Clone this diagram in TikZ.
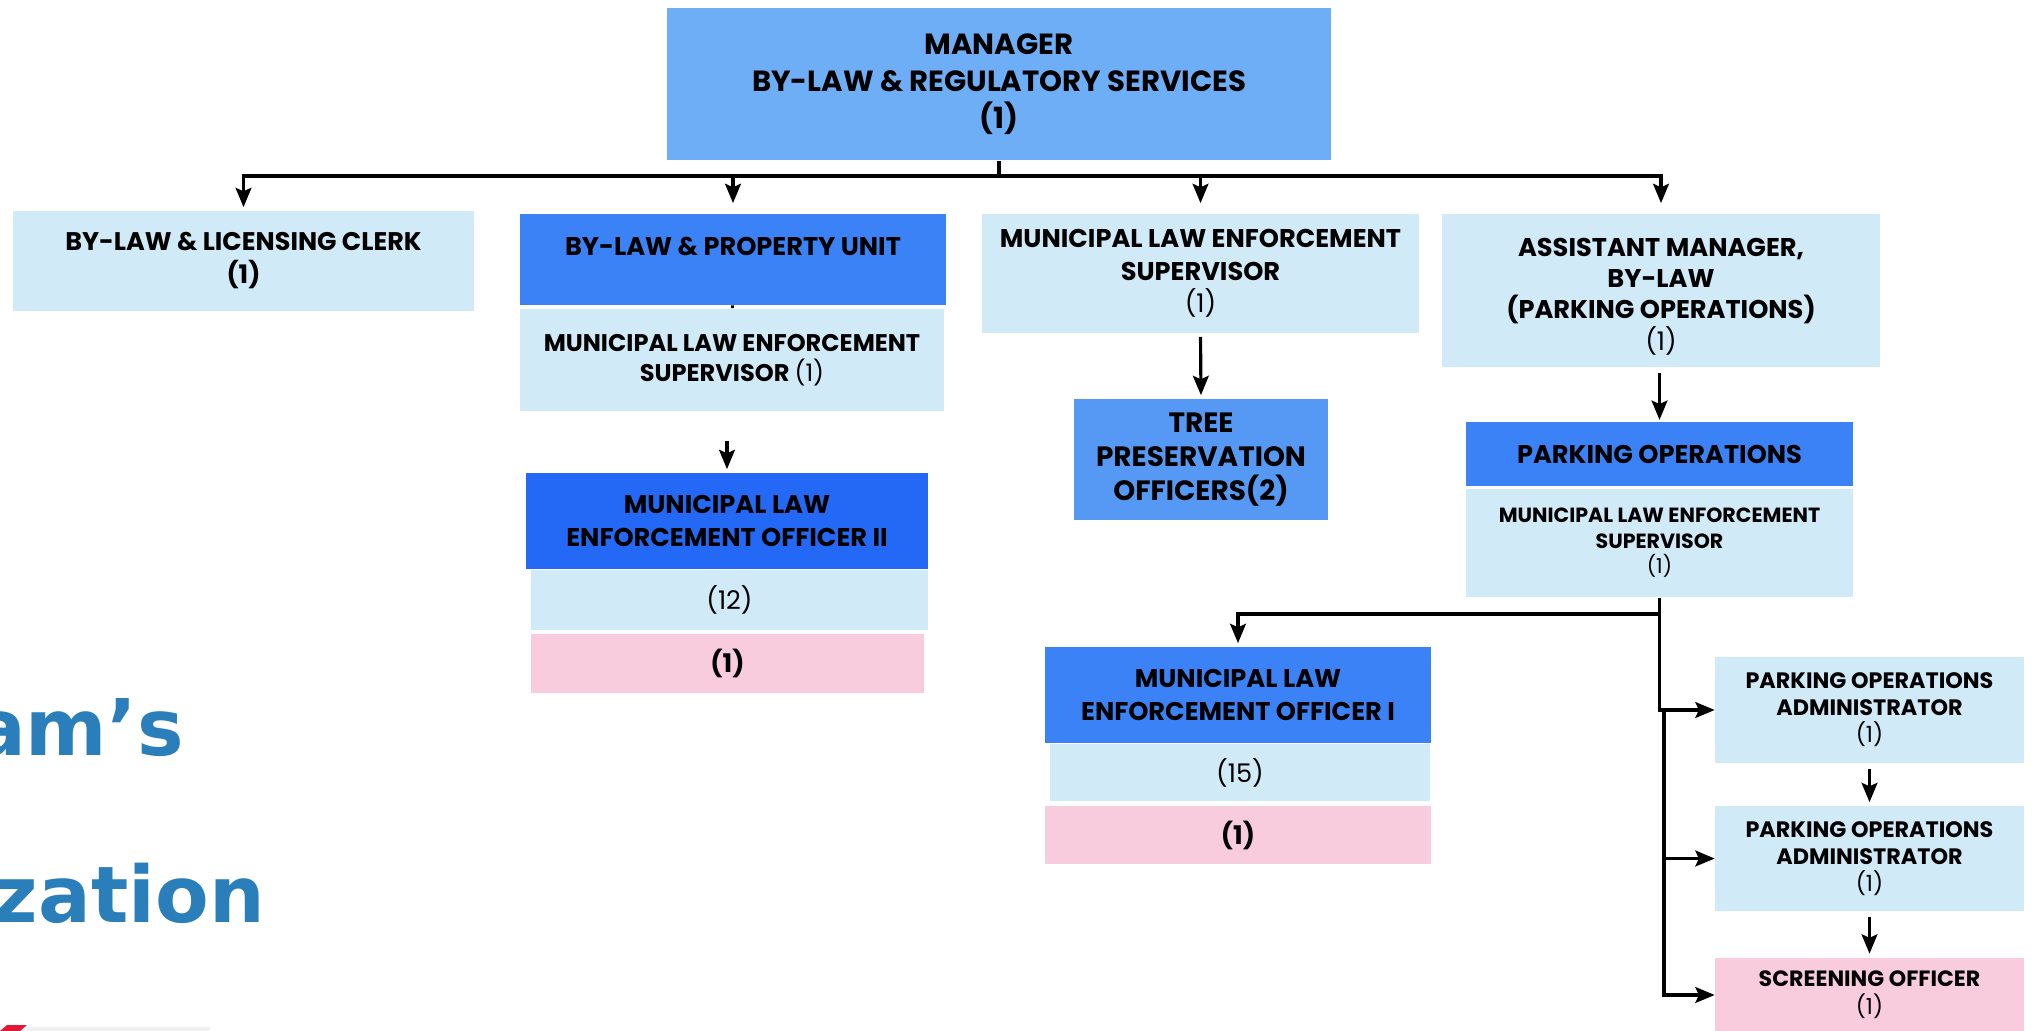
\documentclass[tikz,border=0pt]{standalone}
\usepackage{fontspec}
\setmainfont{Poppins}
\newfontfamily\titlefont{DejaVu Sans}
\usepackage{tikz}
\usetikzlibrary{arrows.meta}

\definecolor{topblue}{HTML}{6EAEF6}
\definecolor{paleblue}{HTML}{D0EAF7}
\definecolor{unitblue}{HTML}{3B82F6}
\definecolor{deepblue}{HTML}{2369F5}
\definecolor{treeblue}{HTML}{5599F5}
\definecolor{pinkbox}{HTML}{F8CCDD}
\definecolor{titleblue}{HTML}{2A7FBA}
\definecolor{logored}{HTML}{E31837}

\tikzset{
  box/.style={inner sep=0pt, align=center, text=black, font=\bfseries\fontsize{14.6}{18.4}\selectfont},
  pale/.style={box, fill=paleblue},
  unitbox/.style={box, fill=unitblue},
  deep/.style={box, fill=deepblue},
  pinkcell/.style={box, fill=pinkbox},
  small/.style={font=\bfseries\fontsize{11.7}{14.5}\selectfont},
  link/.style={line width=1.8pt, -{Stealth[length=11pt,width=9pt,inset=2pt]}},
  bigtext/.style={inner sep=0pt, text=titleblue, font=\titlefont\bfseries\fontsize{44.5}{50}\selectfont},
}

\begin{document}
\begin{tikzpicture}[x=0.02cm,y=-0.02cm]
    \useasboundingbox (0,0) rectangle (2032,1031);
    \node[box, fill=topblue, minimum width=13.28cm, minimum height=3.06cm, font=\bfseries\fontsize{16.6}{21}\selectfont] (manager) at (999,84) {MANAGER\\BY-LAW \& REGULATORY SERVICES\\(1)};
    \node[pale, minimum width=9.22cm, minimum height=2cm, font=\bfseries\fontsize{14.5}{18.8}\selectfont] (clerk) at (243.5,261) {BY-LAW \& LICENSING CLERK\\(1)};
    \node[unitbox, minimum width=8.52cm, minimum height=1.82cm, label={[box,yshift=7.7pt]center:BY-LAW \& PROPERTY UNIT}] (unit) at (733,259.5) {};
    \node[pale, minimum width=8.48cm, minimum height=2.06cm, font=\bfseries\fontsize{13.7}{17}\selectfont] (unitsup) at (732,360) {MUNICIPAL LAW ENFORCEMENT\\SUPERVISOR \textmd{(1)}};
    \node[deep, minimum width=8.04cm, minimum height=1.92cm] (mleotwo) at (727,521) {MUNICIPAL LAW\\ENFORCEMENT OFFICER II};
    \node[pale, minimum width=7.94cm, minimum height=1.2cm] (mleotwocount) at (729.5,600) {\textmd{(12)}};
    \node[pinkcell, minimum width=7.86cm, minimum height=1.18cm] (mleotwopink) at (727.5,663.5) {(1)};
    \node[pale, minimum width=8.74cm, minimum height=2.38cm] (mles) at (1200.5,273.5) {MUNICIPAL LAW ENFORCEMENT\\SUPERVISOR\\\textmd{(1)}};
    \node[box, fill=treeblue, minimum width=5.08cm, minimum height=2.42cm, font=\bfseries\fontsize{15.9}{19.3}\selectfont] (tree) at (1201,459.5) {TREE\\PRESERVATION\\OFFICERS(2)};
    \node[pale, minimum width=8.76cm, minimum height=3.06cm, label={[box,yshift=-3.4pt,font=\bfseries\fontsize{14.6}{17.8}\selectfont]center:ASSISTANT MANAGER,\\BY-LAW\\(PARKING OPERATIONS)\\\textmd{(1)}}] (asst) at (1661,290.5) {};
    \node[unitbox, minimum width=7.74cm, minimum height=1.28cm] (parking) at (1659.5,454) {PARKING OPERATIONS};
    \node[pale, small, minimum width=7.74cm, minimum height=2.18cm] (psup) at (1659.5,543) {MUNICIPAL LAW ENFORCEMENT\\SUPERVISOR\\\textmd{(1)}};
    \node[unitbox, minimum width=7.72cm, minimum height=1.92cm] (mleoone) at (1238,695) {MUNICIPAL LAW\\ENFORCEMENT OFFICER I};
    \node[pale, minimum width=7.6cm, minimum height=1.14cm] (mleoonecount) at (1240,772.5) {\textmd{(15)}};
    \node[pinkcell, minimum width=7.72cm, minimum height=1.16cm] (mleoonepink) at (1238,835) {(1)};
    \node[pale, minimum width=6.18cm, minimum height=2.12cm, font=\bfseries\fontsize{12.7}{15.4}\selectfont] (poaone) at (1869.5,710) {PARKING OPERATIONS\\ADMINISTRATOR\\\textmd{(1)}};
    \node[pale, minimum width=6.18cm, minimum height=2.1cm, font=\bfseries\fontsize{12.7}{15.4}\selectfont] (poatwo) at (1869.5,858.5) {PARKING OPERATIONS\\ADMINISTRATOR\\\textmd{(1)}};
    \node[pinkcell, minimum width=6.18cm, minimum height=1.5cm, font=\bfseries\fontsize{12.6}{16}\selectfont] (screen) at (1869.5,995) {SCREENING OFFICER\\\textmd{(1)}};

    \node[bigtext, anchor=base east] (program) at (184,755) {am’s};
    \node[bigtext, anchor=base east] (organization) at (265,922) {zation};
    \fill[logored] (7,1025) -- (27,1025) -- (20,1031) -- (0,1031) -- cycle;
    \fill[black!6] (27,1027) rectangle (210,1031);

    % reporting lines
    \coordinate (bus) at (999,176);
    \coordinate (dropii) at (727,441);
    \coordinate (split) at (1659.5,614);
    \coordinate (trunk) at (1664,710);
    \draw[line width=1.8pt] (manager.south) -- (bus);
    \draw[link, shorten >=2pt] (bus) -| (clerk.north);
    \draw[link, shorten >=6pt] (bus) -| (unit.north);
    \draw[link, shorten >=6pt] (bus) -| (mles.north);
    \draw[link, shorten >=6pt] (bus) -| (asst.north);
    \draw[line width=1.5pt] (unit) -- (unitsup);
    \draw[link, shorten >=2pt] (dropii) -- (mleotwo.north);
    \draw[link, shorten <=2pt, shorten >=2pt] (mles.south) -- (tree.north);
    \draw[link, shorten <=3pt, shorten >=1pt] (asst.south -| parking.north) -- (parking.north);
    \draw[link, shorten >=2pt] (psup.south) -- (split) -| (mleoone.north);
    \draw[link] (psup.south) |- (poaone.west);
    \draw[link] (trunk) |- (poatwo.west);
    \draw[link] (trunk) |- (screen.west);
    \draw[link, shorten <=3pt, shorten >=2pt] (poaone.south) -- (poatwo.north);
    \draw[link, shorten <=3pt, shorten >=2pt] (poatwo.south) -- (screen.north);
\end{tikzpicture}
\end{document}
